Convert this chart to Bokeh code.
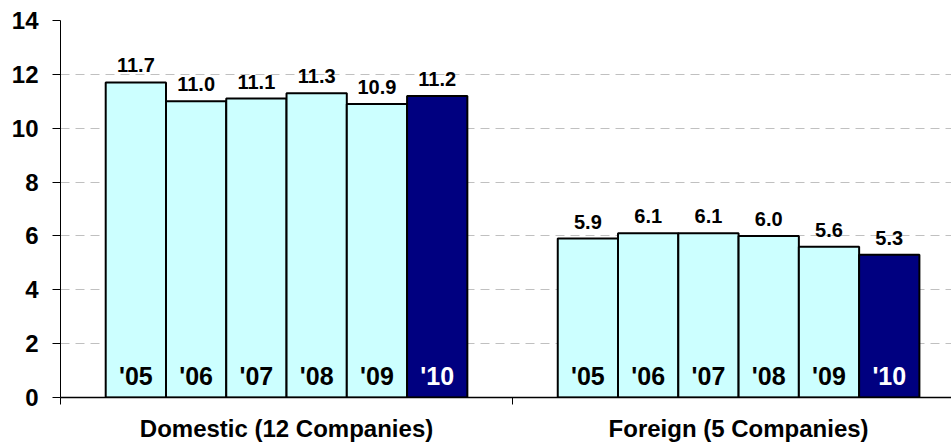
from bokeh.plotting import figure
from bokeh.models import Range1d, FixedTicker, ColumnDataSource
from bokeh.embed import file_html
from bokeh.resources import INLINE
from bokeh.core.properties import value

groups = ["Domestic (12 Companies)", "Foreign (5 Companies)"]
years = ["'05", "'06", "'07", "'08", "'09", "'10"]
domestic = [11.7, 11.0, 11.1, 11.3, 10.9, 11.2]
foreign = [5.9, 6.1, 6.1, 6.0, 5.6, 5.3]
y_ticks = [0, 2, 4, 6, 8, 10, 12, 14]

FONT = "Liberation Sans"
LIGHT = "#CCFFFF"
DARK = "#000080"

n = len(years)
group_frac = 0.8
bw = group_frac / n

xs, tops, fills, ylabels, vlabels, ycolors = [], [], [], [], [], []
for g, vals in enumerate([domestic, foreign]):
    for i, v in enumerate(vals):
        xs.append(g + (1 - group_frac) / 2 + (i + 0.5) * bw)
        tops.append(v)
        last = i == n - 1
        fills.append(DARK if last else LIGHT)
        ycolors.append("white" if last else "black")
        ylabels.append(years[i])
        vlabels.append(f"{v:.1f}")

src = ColumnDataSource(dict(x=xs, top=tops, fill=fills, yl=ylabels,
                            vl=vlabels, yc=ycolors, base=[0] * len(xs)))

p = figure(width=951, height=444, output_backend="svg", toolbar_location=None,
           x_range=Range1d(0, 1.971), y_range=Range1d(0, 14),
           min_border_left=60, min_border_top=20, min_border_right=0,
           min_border_bottom=0)
p.outline_line_color = None
p.background_fill_color = "white"

p.vbar(x="x", top="top", width=bw, fill_color="fill", line_color="black",
       line_width=2, source=src)

p.text(x="x", y="top", text="vl", source=src, text_align="center",
       text_baseline="alphabetic", y_offset=-17, text_font=value(FONT),
       text_font_style="bold", text_font_size="20px", text_color="black")
p.text(x="x", y="base", text="yl", source=src, text_align="center",
       text_baseline="alphabetic", y_offset=-22, text_font=value(FONT),
       text_font_style="bold", text_font_size="25px", text_color="yc")

# y axis
p.yaxis.ticker = FixedTicker(ticks=y_ticks)
p.yaxis.major_tick_out = 8
p.yaxis.major_tick_in = 0
p.yaxis.minor_tick_line_color = None
p.yaxis.major_label_standoff = 14
p.yaxis.major_label_text_font = FONT
p.yaxis.major_label_text_font_style = "bold"
p.yaxis.major_label_text_font_size = "24px"
p.yaxis.major_label_text_color = "black"
p.yaxis.axis_line_color = "black"
p.yaxis.major_tick_line_color = "black"

# x axis: group names as labels, boundary marks as minor ticks
p.xaxis.ticker = FixedTicker(ticks=[0.5, 1.5], minor_ticks=[0, 1, 2])
p.xaxis.major_label_overrides = {0.5: groups[0], 1.5: groups[1]}
p.xaxis.major_tick_out = 0
p.xaxis.major_tick_in = 0
p.xaxis.minor_tick_out = 7
p.xaxis.minor_tick_in = 0
p.xaxis.minor_tick_line_color = "black"
p.xaxis.major_label_standoff = 10
p.xaxis.major_label_text_font = FONT
p.xaxis.major_label_text_font_style = "bold"
p.xaxis.major_label_text_font_size = "24px"
p.xaxis.major_label_text_color = "black"
p.xaxis.axis_line_color = "black"
p.xaxis.axis_line_width = 1.5

p.xgrid.grid_line_color = None
p.ygrid.ticker = FixedTicker(ticks=y_ticks[1:])
p.ygrid.grid_line_color = "#C0C0C0"
p.ygrid.grid_line_dash = "9 6"
p.ygrid.grid_line_width = 1

open("out.html", "w").write(file_html(p, INLINE))
